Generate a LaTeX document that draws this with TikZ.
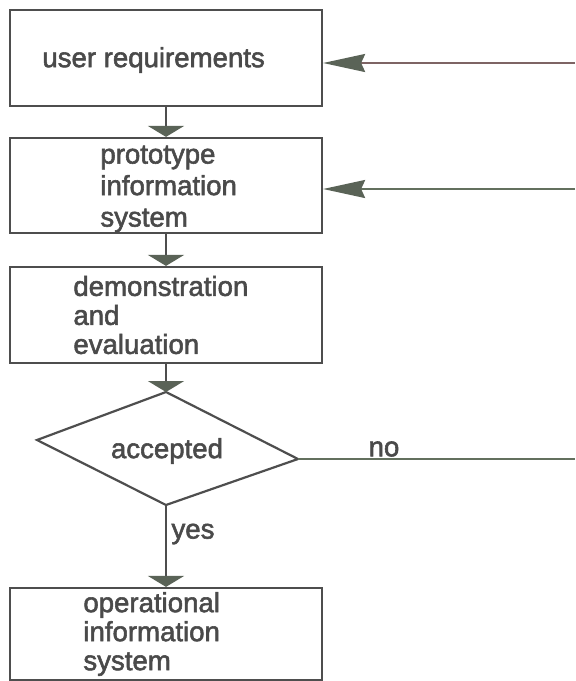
\documentclass[tikz,border=0pt]{standalone}
\usepackage{fontspec}
\setmainfont{Liberation Sans}
\newfontfamily\medfont{Liberation Sans}[FakeBold=2]
\usetikzlibrary{arrows.meta}
\definecolor{ink}{HTML}{4E4E4E}
\definecolor{txt}{HTML}{4A4A4A}
\definecolor{headc}{HTML}{5A6357}
\definecolor{redl}{HTML}{7E6464}
\definecolor{grnl}{HTML}{63705E}
\begin{document}
\begin{tikzpicture}[x=0.5pt,y=-0.5pt,
  lbl/.style={font=\medfont\fontsize{13.8}{15.75}\selectfont, text=txt, align=left, inner sep=0pt},
  tight/.style={font=\medfont\fontsize{13.8}{14.5}\selectfont},
  box/.style={draw=ink, line width=1.1pt, minimum width=156pt, minimum height=48pt, inner sep=0pt},
  flow/.style={draw=ink, line width=1.1pt, -{Triangle[width=18pt,length=5.5pt,color=headc]}},
  back/.style={line width=1pt, -{Stealth[length=21pt,width=9pt,inset=2pt,color=headc]}},
  plain/.style={draw=ink, line width=1.1pt}]
\useasboundingbox (0,0) rectangle (575,681);
% boxes
\node[box] (b1) at (166,58) {};
\node[box, minimum height=47.5pt] (b2) at (166,185.5) {};
\node[box] (b3) at (166,315) {};
\node[box, minimum height=46pt] (b4) at (166,634) {};
\node[lbl, anchor=west] (b1t) at (42,60) {user requirements};
\node[lbl, anchor=west] (b2t) at (100,189) {prototype\\information\\system};
\node[lbl, tight, anchor=west] (b3t) at (73,315) {demonstration\\and\\evaluation};
\node[lbl, tight, anchor=west] (b4t) at (83,634) {operational\\information\\system};
% decision
\coordinate (dT) at (166,392);
\coordinate (dR) at (298,459);
\coordinate (dB) at (166,505);
\coordinate (dL) at (37,440);
\draw[plain, line join=miter] (dT) -- (dR) -- (dB) -- (dL) -- cycle;
\node[lbl] (acc) at (167,451) {accepted};
% labels
\node[lbl] (no) at (384,449) {no};
\node[lbl] (yes) at (193,534) {yes};
% right-edge free ends
\coordinate (in1) at (575,63);
\coordinate (in2) at (575,189);
\coordinate (out) at (575,459);
% connectors
\draw[flow] (b1.south) -- (b2.north);
\draw[flow] (b2.south) -- (b3.north);
\draw[flow] (b3.south) -- (dT);
\draw[flow] (dB) -- (b4.north);
\draw[plain, draw=grnl] (dR) -- (out);
\draw[back, draw=redl] (in1) -- (in1 -| b1.east);
\draw[back, draw=grnl] (in2) -- (in2 -| b2.east);
\end{tikzpicture}
\end{document}
